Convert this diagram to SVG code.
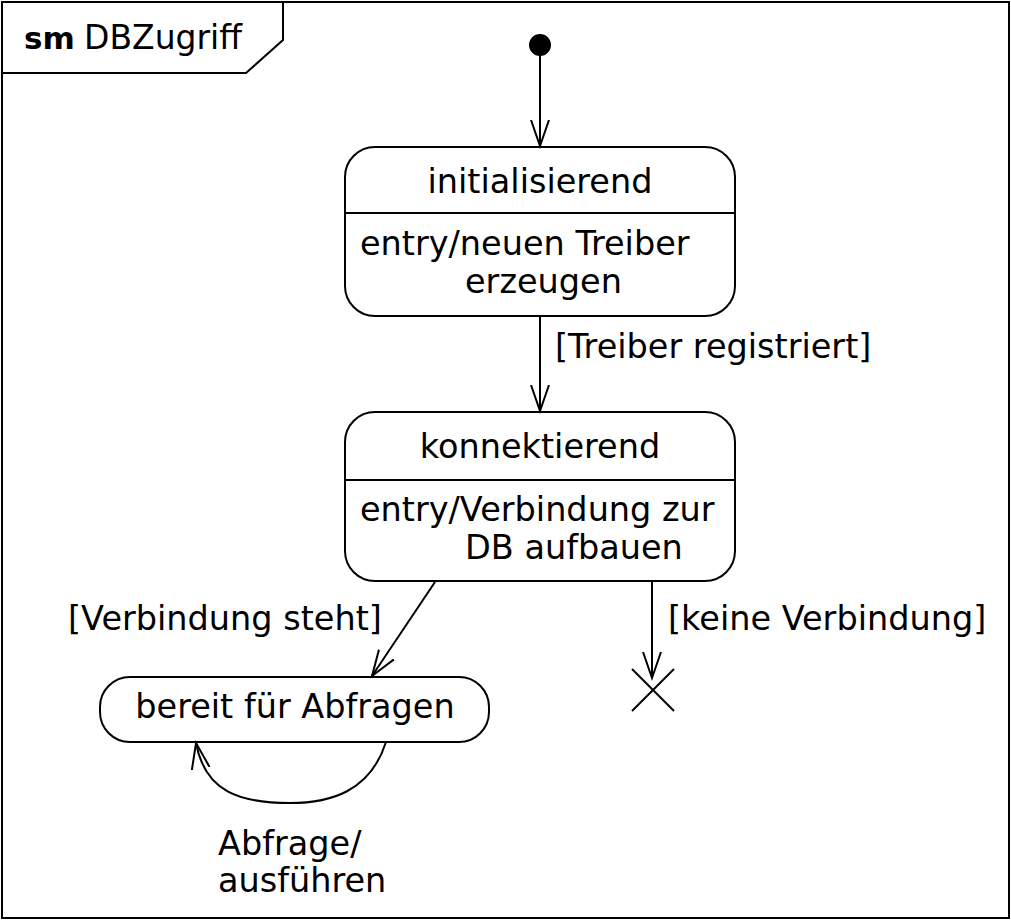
<svg xmlns="http://www.w3.org/2000/svg" width="1011" height="920" viewBox="0 0 1011 920">
<style>
text{font-family:"DejaVu Sans","Liberation Sans",sans-serif;font-size:33.5px;fill:#000}
.s{fill:#fff;stroke:#000;stroke-width:2}
.l{fill:none;stroke:#000;stroke-width:2}
.c{text-anchor:middle}
</style>
<defs>
<marker id="a" markerUnits="userSpaceOnUse" markerWidth="30" markerHeight="24" refX="26" refY="10" orient="auto" viewBox="0 0 30 20">
<path d="M0,1 L26,10 L0,19" fill="none" stroke="#000" stroke-width="2"/>
</marker>
</defs>
<rect x="2" y="2" width="1007" height="916" fill="#fff" stroke="#000" stroke-width="2"/>
<g id="frame-label">
<path d="M2,2 H283 V40 L246,73 H2 Z" class="s"/>
<text x="24" y="49" font-weight="bold" style="font-size:31px">sm</text><text x="84" y="49" style="font-size:33px">DBZugriff</text>
</g>
<g id="initial"><circle cx="540" cy="45" r="11" fill="#000"/></g>
<g id="initialisierend">
<rect x="345" y="147" width="390" height="169" rx="30" class="s"/>
<line x1="345" y1="213" x2="735" y2="213" class="l"/>
<text x="540" y="193" class="c">initialisierend</text>
<text x="360" y="255">entry/neuen Treiber</text>
<text x="465" y="293">erzeugen</text>
</g>
<g id="konnektierend">
<rect x="345" y="412" width="390" height="169" rx="30" class="s"/>
<line x1="345" y1="480" x2="735" y2="480" class="l"/>
<text x="540" y="458" class="c">konnektierend</text>
<text x="360" y="521">entry/Verbindung zur</text>
<text x="465" y="559">DB aufbauen</text>
</g>
<g id="bereit">
<rect x="100" y="677" width="389" height="65" rx="30" class="s"/>
<text x="295" y="718" class="c">bereit für Abfragen</text>
</g>
<g id="terminate">
<path d="M632,669 L674,711 M674,669 L632,711" class="l"/>
</g>
<g id="connectors">
<line x1="540" y1="56" x2="540" y2="146" class="l" marker-end="url(#a)"/>
<line x1="540" y1="316" x2="540" y2="411" class="l" marker-end="url(#a)"/>
<text x="555" y="358">[Treiber registriert]</text>
<line x1="435" y1="582" x2="372" y2="676" class="l" marker-end="url(#a)"/>
<text x="68" y="630">[Verbindung steht]</text>
<line x1="652" y1="582" x2="652" y2="678" class="l" marker-end="url(#a)"/>
<text x="668" y="630">[keine Verbindung]</text>
<path d="M386,742 C370,792 330,803 290,803 C240,803 205,792 196,743" class="l" marker-end="url(#a)"/>
<text x="218" y="855">Abfrage/</text>
<text x="218" y="892">ausführen</text>
</g>
</svg>
